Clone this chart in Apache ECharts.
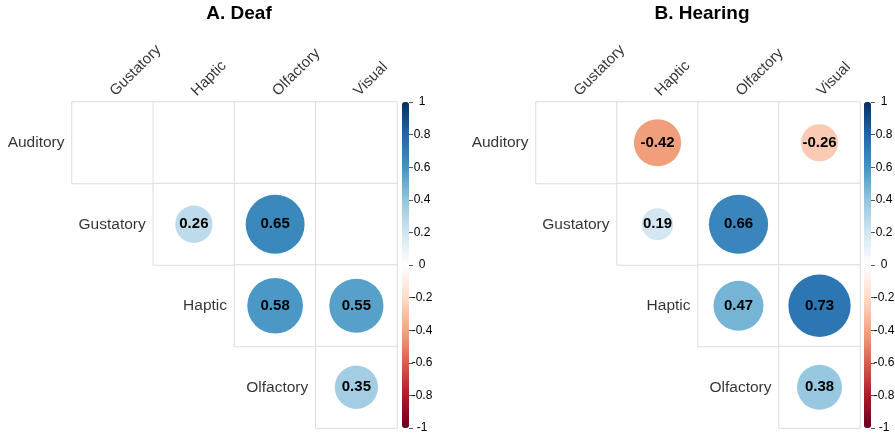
<!DOCTYPE html>
<html>
<head>
<meta charset="utf-8">
<script src="https://cdn.jsdelivr.net/npm/echarts@6/dist/echarts.min.js"></script>
<style>
html,body{margin:0;padding:0;background:#fff;}
#chart{width:895px;height:436px;}
</style>
</head>
<body>
<div id="chart"></div>
<script>
// ---- data ----
const rowNames = ['Auditory', 'Gustatory', 'Haptic', 'Olfactory'];
const colNames = ['Gustatory', 'Haptic', 'Olfactory', 'Visual'];
const panelTitles = ['A. Deaf', 'B. Hearing'];
// upper-triangle correlations (null = not shown / not significant)
const deafValues = [
  [null, null, null, null],
  [null, 0.26, 0.65, null],
  [null, null, 0.58, 0.55],
  [null, null, null, 0.35]
];
const hearingValues = [
  [null, -0.42, null, -0.26],
  [null, 0.19, 0.66, null],
  [null, null, 0.47, 0.73],
  [null, null, null, 0.38]
];
const legendTicks = [-1, -0.8, -0.6, -0.4, -0.2, 0, 0.2, 0.4, 0.6, 0.8, 1];
const rdbu = ['#67001F', '#B2182B', '#D6604D', '#F4A582', '#FDDBC7', '#FFFFFF',
              '#D1E5F0', '#92C5DE', '#4393C3', '#2166AC', '#053061'];

// ---- build ----
const FONT = '"Liberation Sans", Arial, sans-serif';
const panels = [
  { values: deafValues, title: panelTitles[0], gridLeft: 72, gridW: 325, barLeft: 402, titleX: 239 },
  { values: hearingValues, title: panelTitles[1], gridLeft: 536, gridW: 324, barLeft: 864, titleX: 702 }
];
const GT = 102, GH = 326;
const chart = echarts.init(document.getElementById('chart'), null, { renderer: 'canvas' });
const grids = [], xAxes = [], yAxes = [], series = [], visualMaps = [], titles = [];

panels.forEach((p, pi) => {
  const gi = grids.length;
  grids.push({ left: p.gridLeft, top: GT, width: p.gridW, height: GH, containLabel: false });
  const xi = xAxes.length, yi = yAxes.length;
  xAxes.push({
    gridIndex: gi, type: 'category', data: colNames, show: false
  });
  yAxes.push({
    gridIndex: gi, type: 'category', data: rowNames, inverse: true, show: false
  });
  // overlay value axes (same grid) for text labels
  const vxi = xAxes.length, vyi = yAxes.length;
  xAxes.push({ gridIndex: gi, type: 'value', min: -0.5, max: colNames.length - 0.5, show: false });
  yAxes.push({ gridIndex: gi, type: 'value', min: -0.5, max: rowNames.length - 0.5, inverse: true, show: false });

  // cell frame
  const cells = [];
  rowNames.forEach((r, ri) => {
    colNames.forEach((c, ci) => { if (ci >= ri) cells.push([ci, ri, 0]); });
  });
  series.push({
    type: 'heatmap', xAxisIndex: xi, yAxisIndex: yi, data: cells, silent: true,
    itemStyle: { color: '#ffffff', borderColor: '#dcdcdc', borderWidth: 1 },
    emphasis: { disabled: true }
  });
  // circles
  const pts = [];
  p.values.forEach((row, ri) => row.forEach((v, ci) => { if (v !== null) pts.push([ci, ri, v]); }));
  const circleIdx = series.length;
  series.push({
    type: 'scatter', xAxisIndex: xi, yAxisIndex: yi, data: pts, symbol: 'circle',
    symbolSize: (val) => Math.sqrt(Math.abs(val[2])) * (p.gridW / 4) * 0.9,
    itemStyle: { opacity: 1 },
    label: { show: true, position: 'inside', formatter: (d) => d.value[2].toFixed(2),
             fontSize: 15, fontWeight: 'bold', color: '#000', fontFamily: FONT },
    emphasis: { disabled: true }
  });
  // row labels
  series.push({
    type: 'scatter', xAxisIndex: xi, yAxisIndex: yi, silent: true,
    data: rowNames.map((r, ri) => [ri, ri, r]), symbolSize: 1,
    itemStyle: { color: 'rgba(0,0,0,0)' },
    label: { show: true, position: 'left', distance: (p.gridW / 4) / 2 + 7,
             formatter: (d) => d.value[2], fontSize: 15.5, color: '#000', fontFamily: FONT }
  });
  // column labels (rotated, above top edge)
  series.push({
    type: 'scatter', xAxisIndex: vxi, yAxisIndex: vyi, silent: true, clip: false,
    data: colNames.map((c, ci) => [ci, -0.5, c]), symbolSize: 1,
    itemStyle: { color: 'rgba(0,0,0,0)' },
    label: { show: true, position: 'top', distance: 8, rotate: 45,
             align: 'left', verticalAlign: 'middle',
             formatter: (d) => d.value[2], fontSize: 15, color: '#000', fontFamily: FONT }
  });
  visualMaps.push({
    type: 'continuous', min: -1, max: 1, seriesIndex: circleIdx, dimension: 2,
    inRange: { color: rdbu }, calculable: false, realtime: false, hoverLink: false,
    orient: 'vertical', left: p.barLeft, top: GT, itemWidth: 7, itemHeight: GH,
    padding: 0, text: null, showLabel: false
  });
  // colorbar axis
  const ai = grids.length;
  grids.push({ left: p.barLeft + 7, top: GT, width: 1, height: GH });
  xAxes.push({ gridIndex: ai, type: 'value', show: false });
  yAxes.push({
    gridIndex: ai, type: 'value', min: legendTicks[0], max: legendTicks[legendTicks.length - 1],
    interval: 0.2, position: 'left',
    axisLine: { show: false }, splitLine: { show: false },
    axisTick: { show: true, inside: true, length: 4, lineStyle: { color: '#555' } },
    axisLabel: { inside: true, fontSize: 12, color: '#000', fontFamily: FONT, margin: 13,
                 align: 'center', formatter: (v) => String(Math.round(v * 10) / 10) }
  });
  titles.push({ text: p.title, left: p.titleX, top: 4, textAlign: 'center', padding: 0,
                textStyle: { fontSize: 19, fontWeight: 'bold', color: '#000', fontFamily: FONT } });
});

chart.setOption({
  backgroundColor: '#fff', animation: false,
  title: titles, grid: grids, xAxis: xAxes, yAxis: yAxes, visualMap: visualMaps, series: series
});
</script>
</body>
</html>
